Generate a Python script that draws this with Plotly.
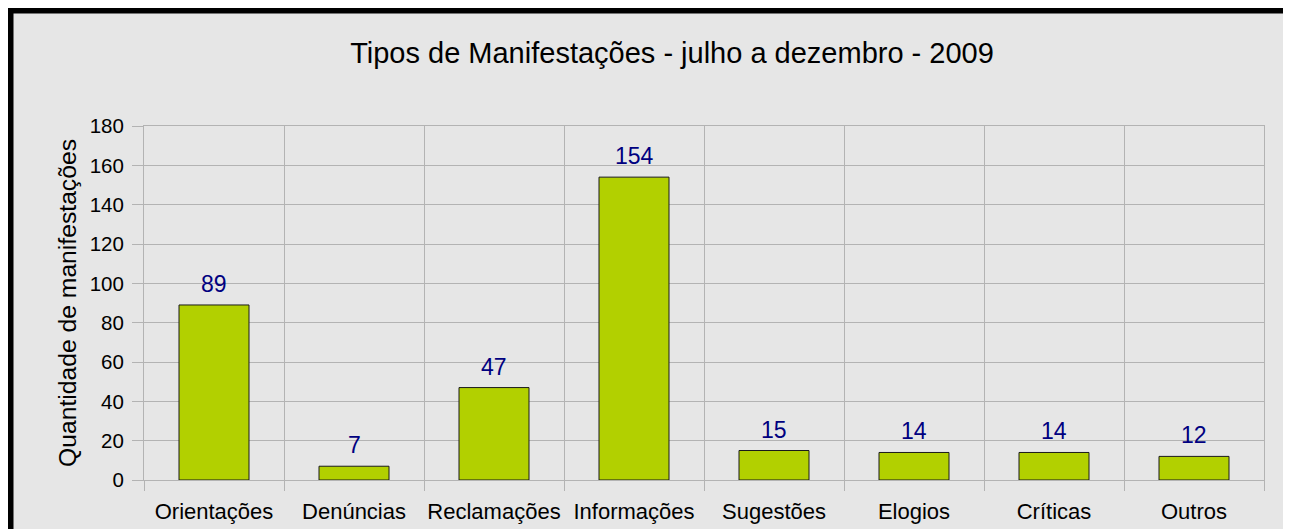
import plotly.graph_objects as go

categories = ["Orientações", "Denúncias", "Reclamações", "Informações",
              "Sugestões", "Elogios", "Críticas", "Outros"]
values = [89, 7, 47, 154, 15, 14, 14, 12]
y_ticks = [0, 20, 40, 60, 80, 100, 120, 140, 160, 180]

title_text = "Tipos de Manifestações - julho a dezembro - 2009"
y_title = "Quantidade de manifestações"

FONT = "Liberation Sans, Arial, sans-serif"
GRID = "#b3b3b3"
BG = "#e6e6e6"

# page body has an 8px margin, so the figure is sized to fit the window
W, H = 1283, 521
L, R, T, B = 136, 27, 118, 49
pw, ph = W - L - R, H - T - B

def px_x(px):
    return (px - L) / pw

def px_y(py):
    return (H - B - py) / ph

fig = go.Figure()
fig.add_trace(go.Bar(
    x=categories, y=values,
    marker=dict(color="#b2d000", line=dict(color="#1a1a1a", width=1)),
    hoverinfo="x+y",
))

for c, v in zip(categories, values):
    fig.add_annotation(x=c, y=v, text=str(v), showarrow=False,
                       yanchor="middle", yshift=21,
                       font=dict(family=FONT, size=23, color="#000080"))

fig.add_shape(type="rect", xref="paper", yref="paper", layer="below",
              x0=px_x(2.5), x1=px_x(1280), y0=px_y(560), y1=px_y(2.5),
              fillcolor=BG, line=dict(color="black", width=6))

fig.update_layout(
    width=W, height=H,
    margin=dict(l=L, r=R, t=T, b=B, autoexpand=False),
    paper_bgcolor="white", plot_bgcolor="rgba(0,0,0,0)",
    bargap=0.5, showlegend=False,
    font=dict(family=FONT, color="black"),
    title=dict(text=title_text, x=664 / W, xref="container", xanchor="center",
               y=1 - 45 / H, yref="container", yanchor="middle",
               font=dict(family=FONT, size=29, color="black")),
)
fig.update_xaxes(
    type="category", showline=True, linecolor=GRID, linewidth=1, mirror=True,
    showgrid=True, gridcolor=GRID, gridwidth=1, tickson="boundaries",
    ticks="outside", ticklen=10, tickcolor=GRID, tickwidth=1, tickangle=0,
    ticklabelstandoff=12,
    tickfont=dict(family=FONT, size=22, color="black"),
)
fig.update_yaxes(
    range=[0, 180], tickvals=y_ticks, showline=True, linecolor=GRID, linewidth=1,
    mirror=True, showgrid=True, gridcolor=GRID, gridwidth=1, zeroline=False,
    ticks="outside", ticklen=11, tickcolor=GRID, tickwidth=1,
    ticklabelstandoff=4,
    tickfont=dict(family=FONT, size=20.5, color="black"),
    title=dict(text=y_title, font=dict(family=FONT, size=24.7, color="black"), standoff=6),
)

fig.write_html("out.html")
